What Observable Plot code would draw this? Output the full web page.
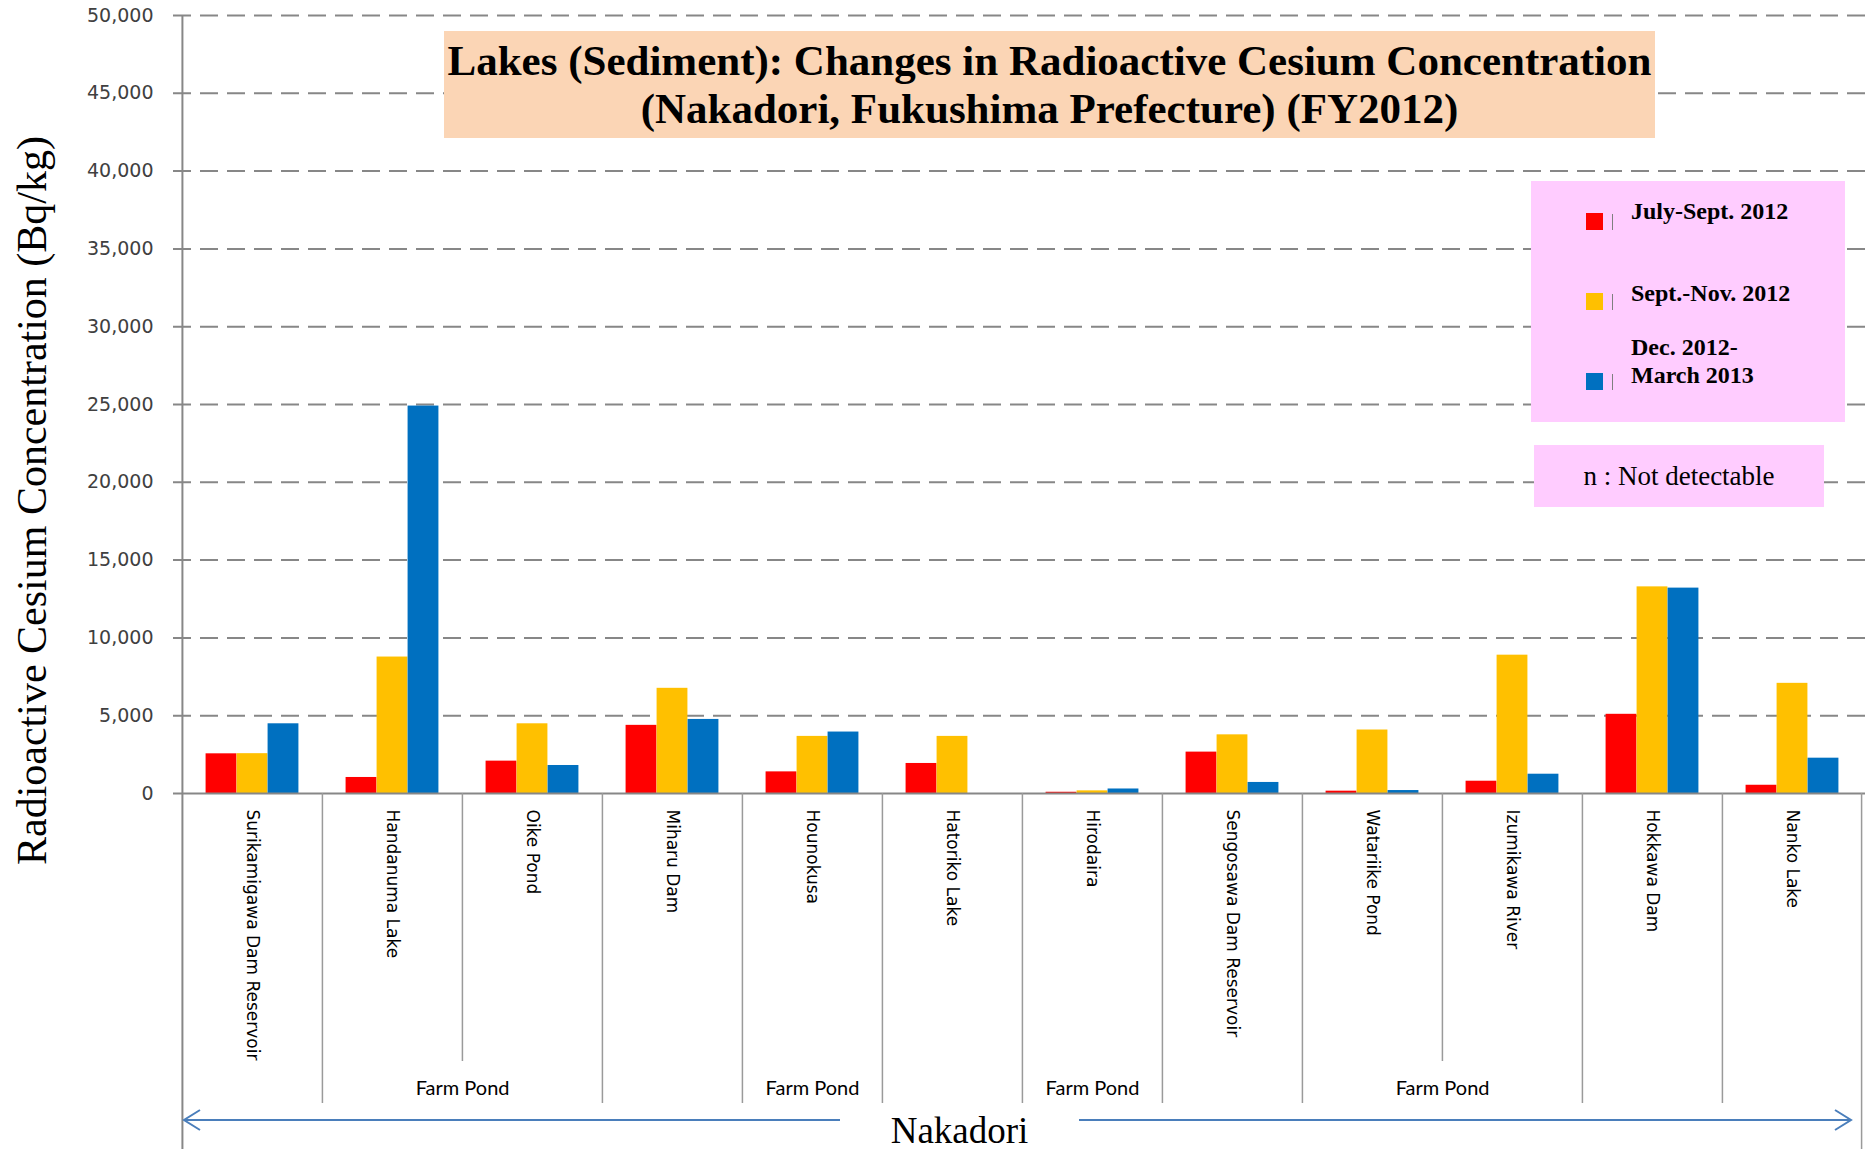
<!DOCTYPE html>
<html>
<head>
<meta charset="utf-8">
<script src="https://cdn.jsdelivr.net/npm/d3@7"></script>
<script src="https://cdn.jsdelivr.net/npm/@observablehq/plot@0.6"></script>
<style>
  html, body { margin: 0; padding: 0; background: #fff; overflow: hidden; }
  #wrap { position: relative; width: 1865px; height: 1152px; overflow: hidden; background: #fff; }
  #wrap svg { position: absolute; left: 0; top: 0; }
  .ov { position: absolute; box-sizing: border-box; }
  .title { left: 444px; top: 31px; width: 1211px; height: 107px; background: #FBD5B5;
           font-family: "Liberation Serif", "Times New Roman", serif; font-weight: bold; font-size: 43px;
           line-height: 48px; text-align: center; padding-top: 6px; color: #000; white-space: nowrap; }
  .legend { left: 1531px; top: 181px; width: 314px; height: 241px; background: #FFCCFF; }
  .note { left: 1534px; top: 445px; width: 290px; height: 62px; background: #FFCCFF;
          font-family: "Liberation Serif", "Times New Roman", serif; font-size: 27px; line-height: 27px;
          text-align: center; padding-top: 18px; color: #000; }
  .sw { position: absolute; width: 17px; height: 17px; }
  .tk { position: absolute; width: 1px; height: 16px; background: #7f7f7f; }
  .lt { position: absolute; font-family: "Liberation Serif", "Times New Roman", serif; font-weight: bold;
        font-size: 24px; line-height: 28px; color: #000; white-space: pre; }
</style>
</head>
<body>
<div id="wrap"></div>
<script>
// ---------- data ----------
const categories = [
  "Surikamigawa Dam Reservoir", "Handanuma Lake", "Oike Pond", "Miharu Dam", "Hounokusa",
  "Hatoriko Lake", "Hirodaira", "Sengosawa Dam Reservoir", "Watariike Pond", "Izumikawa River",
  "Hokkawa Dam", "Nanko Lake"
];
const julySept = [2550, 1030, 2080, 4380, 1390, 1930, 80, 2660, 150, 790, 5090, 530];
const septNov  = [2560, 8770, 4480, 6760, 3670, 3670, 170, 3770, 4080, 8890, 13280, 7080];
const decMarch = [4480, 24900, 1800, 4760, 3950, null, 290, 710, 190, 1240, 13200, 2270];
const seriesNames = ["July-Sept. 2012", "Sept.-Nov. 2012", "Dec. 2012-\nMarch 2013"];
const seriesColors = ["#FF0000", "#FFC000", "#0070C0"];
const yTicks = [0, 5000, 10000, 15000, 20000, 25000, 30000, 35000, 40000, 45000, 50000];
const farmPondGroups = [
  ["Handanuma Lake", "Oike Pond"], ["Hounokusa"], ["Hirodaira"], ["Watariike Pond", "Izumikawa River"]
];
const groupLabel = "Farm Pond";
const regionLabel = "Nakadori";
const yLabel = "Radioactive Cesium Concentration (Bq/kg)";
const titleLines = ["Lakes (Sediment): Changes in Radioactive Cesium Concentration",
                    "(Nakadori, Fukushima Prefecture) (FY2012)"];
const noteText = "n : Not detectable";

// ---------- layout ----------
const W = 1865, H = 1152;
const mT = 15, mL = 181, mR = 2, mB = 359;
const plotH = H - mT - mB;
const step = (W - mL - mR) / categories.length;
const barW = 31;
const inset = (step - barW) / 2;
const gray = "#878787";

const seriesValues = [julySept, septNov, decMarch];
const barMarks = seriesValues.map((vals, i) =>
  Plot.barY(
    categories.map((c, j) => ({cat: c, v: vals[j]})).filter(d => d.v != null),
    {x: "cat", y: "v", fill: seriesColors[i], insetLeft: inset, insetRight: inset, dx: (i - 1) * barW}
  )
);

// dividers: boundaries inside a farm-pond group are short, others long
const shortLeft = [];
farmPondGroups.forEach(g => g.slice(1).forEach(c => shortLeft.push(c)));
const longLeft = categories.slice(1).filter(c => !shortLeft.includes(c));
const lastCat = categories[categories.length - 1];

const arrowMark = (index, scales, values, dims) => {
  const g = d3.create("svg:g").attr("stroke", "#4A7EBB").attr("stroke-width", 2).attr("fill", "none");
  const y = 1120;
  const xl = dims.marginLeft + 3, xr = dims.width - dims.marginRight - 12;
  const gapL = 840, gapR = 1079;
  g.append("path").attr("d", `M${gapL},${y}H${xl}M${xl + 16},${y - 10}L${xl},${y}L${xl + 16},${y + 10}`);
  g.append("path").attr("d", `M${gapR},${y}H${xr}M${xr - 16},${y - 10}L${xr},${y}L${xr - 16},${y + 10}`);
  return g.node();
};

const chart = Plot.plot({
  width: W, height: H,
  marginTop: mT, marginLeft: mL, marginRight: mR, marginBottom: mB,
  style: {background: "transparent", overflow: "visible"},
  x: {type: "band", domain: categories, paddingInner: 0, paddingOuter: 0, axis: null},
  y: {domain: [0, 50000], axis: null},
  marks: [
    Plot.ruleY(yTicks.filter(t => t > 0), {stroke: gray, strokeWidth: 2, strokeDasharray: "18,9", insetLeft: -8, insetRight: -mR}),
    ...barMarks,
    Plot.ruleY([0], {stroke: gray, strokeWidth: 2, insetLeft: -8, insetRight: -mR}),
    // left axis line
    Plot.ruleX([categories[0]], {x: d => d, dx: -step / 2, stroke: gray, strokeWidth: 2, insetBottom: -(H - 3 - (H - mB))}),
    // long dividers
    Plot.ruleX(longLeft, {x: d => d, dx: -step / 2, stroke: "#9a9a9a", strokeWidth: 1.5, insetTop: plotH, insetBottom: -310}),
    Plot.ruleX([lastCat], {x: d => d, dx: step / 2 - 1, stroke: "#9a9a9a", strokeWidth: 1.5, insetTop: plotH, insetBottom: -(H - 3 - (H - mB))}),
    // short dividers
    Plot.ruleX(shortLeft, {x: d => d, dx: -step / 2, stroke: "#9a9a9a", strokeWidth: 1.5, insetTop: plotH, insetBottom: -268}),
    // axes
    Plot.axisY({ticks: yTicks, tickSize: 0, tickPadding: 28, tickFormat: d3.format(","), fontSize: 19,
                fontFamily: "DejaVu Sans", color: "#404040", label: null}),
    Plot.axisX({tickSize: 0, tickPadding: 16, tickRotate: 90, fontSize: 17, fontFamily: "DejaVu Sans",
                color: "#000", label: null}),
    // group labels
    Plot.text(farmPondGroups.filter(g => g.length === 2).map(g => g[0]),
      {x: d => d, dx: step / 2, frameAnchor: "bottom", dy: 295, text: () => groupLabel,
       fontSize: 20, fontFamily: "Lato", fill: "#000", lineAnchor: "middle"}),
    Plot.text(farmPondGroups.filter(g => g.length === 1).map(g => g[0]),
      {x: d => d, frameAnchor: "bottom", dy: 295, text: () => groupLabel,
       fontSize: 20, fontFamily: "Lato", fill: "#000", lineAnchor: "middle"}),
    // y label
    Plot.text([yLabel], {frameAnchor: "left", dx: 32 - mL, dy: 500 - (mT + plotH / 2), rotate: -90,
      fontSize: 42, fontFamily: "Liberation Serif", fill: "#000", textAnchor: "middle", lineAnchor: "middle"}),
    // region label
    Plot.text([regionLabel], {frameAnchor: "bottom", dx: 959 - (mL + (W - mL - mR) / 2), dy: 338,
      fontSize: 37, fontFamily: "Liberation Serif", fill: "#000", lineAnchor: "middle"}),
    arrowMark
  ]
});

const wrap = document.getElementById("wrap");
wrap.appendChild(chart);

// title
const t = document.createElement("div");
t.className = "ov title";
t.innerHTML = titleLines.map(s => s.replace(/&/g, "&amp;")).join("<br>");
wrap.appendChild(t);

// legend
const lg = document.createElement("div");
lg.className = "ov legend";
wrap.appendChild(lg);
const swTops = [213, 293, 373];
const txtTops = [197, 279, 333];
seriesNames.forEach((name, i) => {
  const sw = document.createElement("div");
  sw.className = "sw";
  sw.style.left = (1586 - 1531) + "px";
  sw.style.top = (swTops[i] - 181) + "px";
  sw.style.background = seriesColors[i];
  lg.appendChild(sw);
  const tk = document.createElement("div");
  tk.className = "tk";
  tk.style.left = (1612 - 1531) + "px";
  tk.style.top = (swTops[i] + 1 - 181) + "px";
  lg.appendChild(tk);
  const tx = document.createElement("div");
  tx.className = "lt";
  tx.style.left = (1631 - 1531) + "px";
  tx.style.top = (txtTops[i] - 181) + "px";
  tx.textContent = name;
  lg.appendChild(tx);
});

// note
const nt = document.createElement("div");
nt.className = "ov note";
nt.textContent = noteText;
wrap.appendChild(nt);
</script>
</body>
</html>
